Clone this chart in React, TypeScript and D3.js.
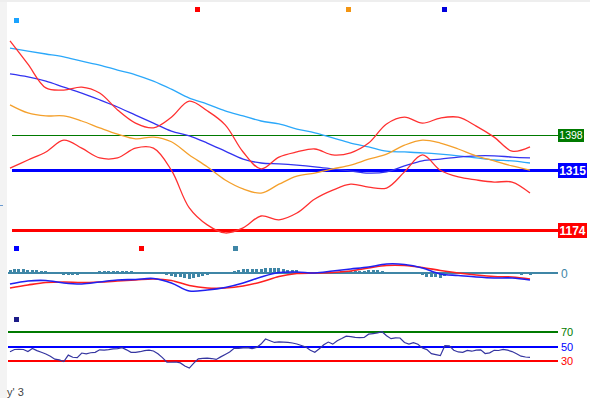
import * as d3 from 'd3'

// bar index grid (117 bars), smooth series are sampled every 4th bar
const BAR_COUNT = 117
const SMOOTH_STEP = 4

// price panel (values at every 4th bar)
const slowMa = [1603, 1596, 1589, 1582, 1572, 1563, 1551, 1540, 1525, 1506, 1485, 1471, 1455, 1443, 1431, 1424, 1412, 1403, 1391, 1379, 1370, 1360, 1358, 1356, 1353, 1349, 1344, 1339, 1337, 1332]
const midMa = [1542, 1535, 1525, 1511, 1497, 1481, 1464, 1445, 1426, 1407, 1396, 1379, 1360, 1341, 1332, 1330, 1327, 1323, 1318, 1313, 1308, 1311, 1325, 1337, 1341, 1346, 1349, 1349, 1346, 1344]
const fastMa = [1469, 1450, 1443, 1443, 1431, 1415, 1400, 1389, 1393, 1382, 1351, 1323, 1292, 1271, 1261, 1282, 1301, 1308, 1318, 1327, 1341, 1353, 1374, 1386, 1379, 1365, 1349, 1337, 1325, 1315]
const upperBand = [1620, 1565, 1509, 1504, 1511, 1497, 1457, 1426, 1415, 1440, 1478, 1455, 1422, 1358, 1318, 1346, 1358, 1365, 1351, 1356, 1379, 1424, 1440, 1426, 1438, 1440, 1419, 1393, 1360, 1370]
const lowerBand = [1320, 1339, 1358, 1386, 1367, 1344, 1344, 1367, 1367, 1315, 1226, 1186, 1167, 1179, 1207, 1198, 1214, 1247, 1268, 1282, 1275, 1273, 1311, 1351, 1315, 1299, 1292, 1287, 1287, 1261]
const priceLevels = [
  { value: 1398, label: '1398', color: '#007a00', width: 1, bold: false },
  { value: 1315, label: '1315', color: '#0000ff', width: 3, bold: true },
  { value: 1174, label: '1174', color: '#ff0000', width: 3, bold: true },
]

// MACD panel (lines every 4th bar, histogram every bar)
const macdLine = [-11, -8, -7.5, -10, -11, -9, -7, -6.5, -5.5, -10, -18, -17, -14.5, -10, -4, 0.5, 1, 0, 2, 4, 6, 9, 8.5, 5, -1, -2.5, -4, -5, -5, -7]
const signalLine = [-15, -12, -9.5, -9, -9.5, -9, -8, -7, -6, -7.5, -12.5, -15, -15, -13, -9, -3.5, -0.5, 0, 0.5, 2, 5, 7.5, 7.5, 5.5, 2.5, 0, -2, -3.5, -4, -6]
const macdHist = [
  3, 4, 4, 4, 3, 3, 3, 2, 2, 1,
  0, -1, -2, -2, -2, -2, -1, 0, 0, 0,
  2, 2, 2, 2, 2, 2, 2, 2, 1, 1,
  1, 1, 1, 1, 0, -2, -3, -4, -4, -5,
  -6, -5, -4, -3, -2, -1, -1, -1, 0, 1,
  2, 3, 4, 4, 4, 4, 4, 5, 5, 5,
  5, 4, 3, 3, 3, 1, 1, 0, -1, 0,
  0, 0, 1, 1, 2, 2, 2, 2, 2, 2,
  3, 3, 3, 2, 1, 1, 1, 0, 0, -1,
  -1, -1, -2, -4, -4, -4, -5, -3, -1, -1,
  -1, -1, -1, -2, -1, -1, -1, -1, -1, -1,
  0, -1, -1, -1, -2, -1, -2,
]

// RSI panel (every bar)
const rsi = [
  42.8, 45.9, 46.1, 45.9, 43.0, 47.2, 44.3, 42.1, 39.7, 36.6,
  32.5, 31.5, 29.3, 38.1, 35.2, 34.7, 41.0, 39.9, 41.4, 42.0,
  45.4, 45.0, 45.6, 46.7, 47.2, 48.3, 45.4, 42.0, 42.0, 42.8,
  44.3, 44.9, 43.8, 40.1, 34.7, 28.5, 28.3, 28.6, 27.4, 23.2,
  20.3, 27.0, 33.0, 33.7, 33.9, 33.4, 32.2, 35.7, 39.1, 42.5,
  47.5, 47.5, 48.1, 48.5, 47.0, 48.8, 53.3, 60.3, 58.0, 55.6,
  56.5, 56.1, 55.6, 54.8, 53.4, 51.4, 49.3, 44.8, 42.1, 46.8,
  52.3, 56.1, 53.3, 58.0, 61.0, 64.3, 63.5, 62.7, 62.3, 62.4,
  67.0, 67.8, 68.7, 70.3, 64.9, 60.8, 62.0, 61.7, 55.5, 53.4,
  55.4, 53.2, 47.8, 45.7, 40.1, 38.7, 37.4, 51.1, 50.8, 44.8,
  42.5, 42.0, 44.6, 43.5, 45.0, 45.3, 40.3, 41.3, 44.8, 44.5,
  46.1, 44.9, 43.0, 39.9, 36.6, 35.5, 35.1,
]
const rsiLevels = [
  { value: 70, color: '#007a00' },
  { value: 50, color: '#0000ff' },
  { value: 30, color: '#ff0000' },
]

const W = 590
const H = 398
const FONT = 'Liberation Sans, Arial, sans-serif'
const TEAL = '#3f86a6'

export default function App() {
  const x = d3.scaleLinear().domain([0, BAR_COUNT - 1]).range([10, 530])
  const yMain = d3.scaleLinear().domain([1174, 1398]).range([230, 135])
  const yMacd = d3.scaleLinear().domain([-25, 25]).range([298, 248])
  const yRsi = d3.scaleLinear().domain([30, 70]).range([361, 332])

  const smoothLine = (scale: d3.ScaleLinear<number, number>) =>
    d3.line<number>()
      .x((_, i) => x(i * SMOOTH_STEP))
      .y(d => scale(d))
      .curve(d3.curveCatmullRom.alpha(0.5))

  const mainLine = smoothLine(yMain)
  const macdPath = smoothLine(yMacd)
  const rsiPath = d3.line<number>().x((_, i) => x(i)).y(d => yRsi(d))

  const barW = 3

  return (
    <div style={{ position: 'fixed', left: 0, top: 0 }}>
      <svg width={W} height={H} style={{ display: 'block', background: '#fff' }}>
        {/* frame strips */}
        <rect x={0} y={0} width={7} height={H} fill="#f3f3f3" />
        <rect x={0} y={0} width={W} height={2} fill="#eeeeee" />
        <rect x={0} y={205} width={3} height={1} fill="#6a9ad0" />

        {/* ---- price panel ---- */}
        <rect x={14} y={18} width={5} height={5} fill="#1aa3ff" />
        <rect x={195} y={7} width={5} height={5} fill="#ff0000" />
        <rect x={346} y={7} width={5} height={5} fill="#f39512" />
        <rect x={442} y={7} width={5} height={5} fill="#0000dd" />

        {priceLevels.map(l => (
          <line key={l.label} x1={12} x2={558} y1={yMain(l.value)} y2={yMain(l.value)}
            stroke={l.color} strokeWidth={l.width} shapeRendering="crispEdges" />
        ))}

        <path d={mainLine(slowMa) || ''} fill="none" stroke="#2ba8fa" strokeWidth={1.3} />
        <path d={mainLine(midMa) || ''} fill="none" stroke="#3333f0" strokeWidth={1.3} />
        <path d={mainLine(fastMa) || ''} fill="none" stroke="#f4a02c" strokeWidth={1.3} />
        <path d={mainLine(upperBand) || ''} fill="none" stroke="#ff3030" strokeWidth={1.3} />
        <path d={mainLine(lowerBand) || ''} fill="none" stroke="#ff3030" strokeWidth={1.3} />

        {priceLevels.map(l => (
          <g key={'lbl' + l.label}>
            <rect x={558} y={Math.round(yMain(l.value)) - (l.bold ? 7 : 6)} width={l.bold ? 29 : 26}
              height={l.bold ? 15 : 13} fill={l.color} shapeRendering="crispEdges" />
            <text x={l.bold ? 572.5 : 571} y={yMain(l.value) + (l.bold ? 5 : 4)} textAnchor="middle"
              fill="#fff" fontFamily={FONT} fontSize={l.bold ? 12 : 10.5}
              fontWeight={l.bold ? 'bold' : 'normal'}>{l.label}</text>
          </g>
        ))}

        {/* ---- MACD panel ---- */}
        <rect x={14} y={246} width={5} height={5} fill="#0000ff" />
        <rect x={139} y={246} width={5} height={5} fill="#ff0000" />
        <rect x={233} y={246} width={5} height={5} fill={TEAL} />

        <line x1={8} x2={558} y1={yMacd(0)} y2={yMacd(0)} stroke={TEAL} strokeWidth={1.5} shapeRendering="crispEdges" />
        {macdHist.map((v, i) => (
          <rect key={i} x={Math.round(x(i) - barW / 2)} y={Math.min(yMacd(v), yMacd(0))}
            width={barW} height={Math.abs(yMacd(v) - yMacd(0))} fill={TEAL} shapeRendering="crispEdges" />
        ))}
        <path d={macdPath(signalLine) || ''} fill="none" stroke="#ff2020" strokeWidth={1.6} />
        <path d={macdPath(macdLine) || ''} fill="none" stroke="#2020f0" strokeWidth={1.6} />
        <text x={561} y={yMacd(0) + 4.5} fill={TEAL} fontFamily={FONT} fontSize={12}>0</text>

        {/* ---- RSI panel ---- */}
        <rect x={14} y={317} width={5} height={5} fill="#1c1c88" />
        {rsiLevels.map(l => (
          <g key={l.value}>
            <line x1={8} x2={558} y1={yRsi(l.value)} y2={yRsi(l.value)} stroke={l.color} strokeWidth={2} shapeRendering="crispEdges" />
            <text x={561} y={yRsi(l.value) + 4} fill={l.color} fontFamily={FONT} fontSize={11}>{l.value}</text>
          </g>
        ))}
        <path d={rsiPath(rsi) || ''} fill="none" stroke="#3535a0" strokeWidth={1.2} />

        <text x={7} y={396} fill="#444" fontFamily={FONT} fontSize={11}>y' 3</text>
      </svg>
    </div>
  )
}
